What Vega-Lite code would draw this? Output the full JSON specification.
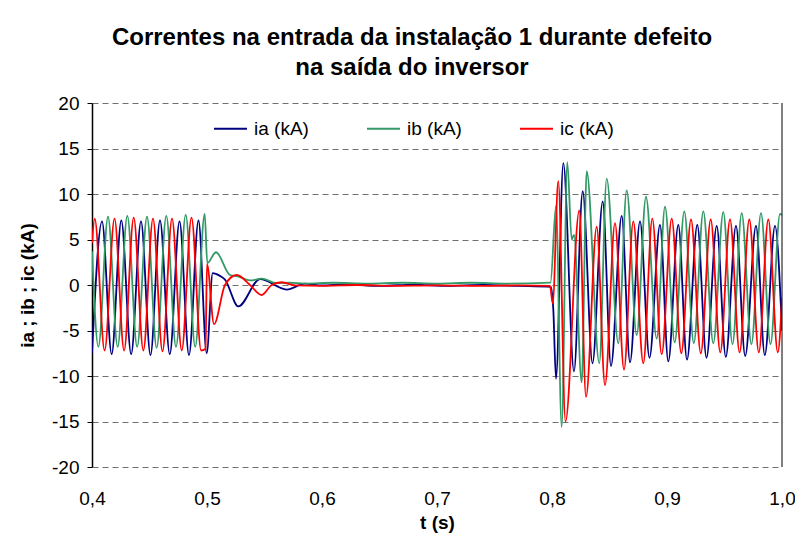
{
  "$schema": "https://vega.github.io/schema/vega-lite/v6.json",
  "width": 690,
  "height": 364,
  "autosize": {"type": "none"},
  "padding": {"left": 92, "top": 103, "right": 13, "bottom": 71},
  "background": "white",
  "title": {
    "text": ["Correntes na entrada da instalação 1 durante defeito", "na saída do inversor"],
    "font": "Liberation Sans",
    "fontSize": 24,
    "fontWeight": "bold",
    "color": "black",
    "anchor": "middle",
    "offset": 14,
    "dx": -25,
    "lineHeight": 30
  },
  "config": {"view": {"stroke": null}, "font": "Liberation Sans"},
  "layer": [
    {
      "data": {
        "values": [
          {"s":"ia","t":0.4,"v":-7.5},{"s":"ia","t":0.4087,"v":7.0},{"s":"ia","t":0.41709,"v":-7.6},{"s":"ia","t":0.42548,"v":7.1},{"s":"ia","t":0.43404,"v":-7.6},{"s":"ia","t":0.44261,"v":7.0},{"s":"ia","t":0.45087,"v":-7.7},{"s":"ia","t":0.45913,"v":7.1},{"s":"ia","t":0.46761,"v":-7.6},{"s":"ia","t":0.47609,"v":7.0},{"s":"ia","t":0.48435,"v":-7.7},{"s":"ia","t":0.49261,"v":7.1},{"s":"ia","t":0.49974,"v":-7.5},{"s":"ia","t":0.50496,"v":1.3},{"s":"ia","t":0.5113,"v":1.0},{"s":"ia","t":0.51565,"v":0.6},{"s":"ia","t":0.52722,"v":-2.35},{"s":"ia","t":0.54609,"v":0.65},{"s":"ia","t":0.5693,"v":-0.5},{"s":"ia","t":0.58522,"v":0.15},{"s":"ia","t":0.6,"v":-0.05},{"s":"ia","t":0.62,"v":0.1},{"s":"ia","t":0.65,"v":-0.1},{"s":"ia","t":0.68,"v":0.05},{"s":"ia","t":0.71,"v":-0.1},{"s":"ia","t":0.74,"v":0.0},{"s":"ia","t":0.77,"v":-0.1},{"s":"ia","t":0.79913,"v":-0.2},{"s":"ia","t":0.80113,"v":-2.7},{"s":"ia","t":0.80348,"v":-10.3},{"s":"ia","t":0.80983,"v":13.4},{"s":"ia","t":0.81913,"v":-9.5},{"s":"ia","t":0.8267,"v":10.3},{"s":"ia","t":0.83522,"v":-8.6},{"s":"ia","t":0.84409,"v":9.2},{"s":"ia","t":0.8513,"v":-8.9},{"s":"ia","t":0.86061,"v":7.6},{"s":"ia","t":0.86783,"v":-8.5},{"s":"ia","t":0.87652,"v":7.0},{"s":"ia","t":0.88478,"v":-8.0},{"s":"ia","t":0.89391,"v":6.6},{"s":"ia","t":0.90113,"v":-8.4},{"s":"ia","t":0.90983,"v":6.6},{"s":"ia","t":0.91739,"v":-8.2},{"s":"ia","t":0.92635,"v":6.6},{"s":"ia","t":0.93435,"v":-8.0},{"s":"ia","t":0.94322,"v":6.5},{"s":"ia","t":0.95113,"v":-7.9},{"s":"ia","t":0.96,"v":6.5},{"s":"ia","t":0.968,"v":-7.8},{"s":"ia","t":0.97739,"v":6.5},{"s":"ia","t":0.98504,"v":-7.7},{"s":"ia","t":0.99391,"v":6.5},{"s":"ia","t":1.0,"v":-5.0},
          {"s":"ib","t":0.4,"v":3.7},{"s":"ib","t":0.40557,"v":-6.8},{"s":"ib","t":0.41391,"v":7.5},{"s":"ib","t":0.4223,"v":-6.8},{"s":"ib","t":0.4307,"v":7.6},{"s":"ib","t":0.43926,"v":-6.8},{"s":"ib","t":0.44783,"v":7.5},{"s":"ib","t":0.45622,"v":-6.9},{"s":"ib","t":0.46461,"v":7.6},{"s":"ib","t":0.47304,"v":-6.8},{"s":"ib","t":0.48148,"v":7.7},{"s":"ib","t":0.48974,"v":-6.8},{"s":"ib","t":0.498,"v":7.8},{"s":"ib","t":0.50026,"v":2.4},{"s":"ib","t":0.50783,"v":3.6},{"s":"ib","t":0.52,"v":1.1},{"s":"ib","t":0.52696,"v":0.95},{"s":"ib","t":0.53739,"v":0.5},{"s":"ib","t":0.54757,"v":0.7},{"s":"ib","t":0.56061,"v":0.2},{"s":"ib","t":0.57217,"v":0.25},{"s":"ib","t":0.58522,"v":0.15},{"s":"ib","t":0.61,"v":0.25},{"s":"ib","t":0.64,"v":0.15},{"s":"ib","t":0.67,"v":0.25},{"s":"ib","t":0.7,"v":0.15},{"s":"ib","t":0.73,"v":0.25},{"s":"ib","t":0.76,"v":0.15},{"s":"ib","t":0.7987,"v":0.25},{"s":"ib","t":0.80348,"v":8.7},{"s":"ib","t":0.80843,"v":-15.6},{"s":"ib","t":0.8133,"v":13.5},{"s":"ib","t":0.81713,"v":5.0},{"s":"ib","t":0.81913,"v":5.5},{"s":"ib","t":0.82583,"v":-10.7},{"s":"ib","t":0.83017,"v":12.5},{"s":"ib","t":0.84113,"v":-8.6},{"s":"ib","t":0.84757,"v":11.7},{"s":"ib","t":0.85765,"v":-6.4},{"s":"ib","t":0.86496,"v":10.4},{"s":"ib","t":0.87365,"v":-5.5},{"s":"ib","t":0.88174,"v":9.7},{"s":"ib","t":0.89104,"v":-5.9},{"s":"ib","t":0.89826,"v":8.6},{"s":"ib","t":0.9067,"v":-6.3},{"s":"ib","t":0.91504,"v":8.1},{"s":"ib","t":0.9233,"v":-6.4},{"s":"ib","t":0.93157,"v":8.1},{"s":"ib","t":0.94026,"v":-6.4},{"s":"ib","t":0.94896,"v":8.0},{"s":"ib","t":0.95696,"v":-6.5},{"s":"ib","t":0.96496,"v":7.9},{"s":"ib","t":0.97339,"v":-6.5},{"s":"ib","t":0.98174,"v":7.9},{"s":"ib","t":0.99,"v":-6.5},{"s":"ib","t":0.99826,"v":7.8},{"s":"ib","t":1.0,"v":7.7},
          {"s":"ic","t":0.4,"v":4.6},{"s":"ic","t":0.40235,"v":7.3},{"s":"ic","t":0.41096,"v":-7.2},{"s":"ic","t":0.41957,"v":7.3},{"s":"ic","t":0.42791,"v":-7.2},{"s":"ic","t":0.43626,"v":7.4},{"s":"ic","t":0.44465,"v":-7.2},{"s":"ic","t":0.45304,"v":7.3},{"s":"ic","t":0.4613,"v":-7.3},{"s":"ic","t":0.46957,"v":7.3},{"s":"ic","t":0.47804,"v":-7.2},{"s":"ic","t":0.48652,"v":7.4},{"s":"ic","t":0.49487,"v":-7.2},{"s":"ic","t":0.4987,"v":-7.0},{"s":"ic","t":0.5,"v":2.3},{"s":"ic","t":0.50609,"v":-4.3},{"s":"ic","t":0.51565,"v":0.0},{"s":"ic","t":0.52583,"v":1.1},{"s":"ic","t":0.53739,"v":0.0},{"s":"ic","t":0.54757,"v":-1.1},{"s":"ic","t":0.55626,"v":0.0},{"s":"ic","t":0.56496,"v":0.3},{"s":"ic","t":0.57652,"v":-0.05},{"s":"ic","t":0.6,"v":-0.1},{"s":"ic","t":0.63,"v":0.0},{"s":"ic","t":0.66,"v":-0.1},{"s":"ic","t":0.7,"v":-0.05},{"s":"ic","t":0.74,"v":-0.1},{"s":"ic","t":0.77,"v":-0.05},{"s":"ic","t":0.79826,"v":-0.1},{"s":"ic","t":0.80061,"v":-2.0},{"s":"ic","t":0.80548,"v":11.4},{"s":"ic","t":0.81174,"v":-15.0},{"s":"ic","t":0.82374,"v":8.2},{"s":"ic","t":0.82957,"v":-12.3},{"s":"ic","t":0.83887,"v":6.4},{"s":"ic","t":0.84609,"v":-11.0},{"s":"ic","t":0.85478,"v":6.8},{"s":"ic","t":0.86261,"v":-9.3},{"s":"ic","t":0.8707,"v":7.0},{"s":"ic","t":0.87939,"v":-8.6},{"s":"ic","t":0.88722,"v":7.3},{"s":"ic","t":0.89539,"v":-7.6},{"s":"ic","t":0.90409,"v":7.3},{"s":"ic","t":0.91243,"v":-7.5},{"s":"ic","t":0.92087,"v":7.2},{"s":"ic","t":0.92939,"v":-7.5},{"s":"ic","t":0.938,"v":7.2},{"s":"ic","t":0.94635,"v":-7.4},{"s":"ic","t":0.95478,"v":7.2},{"s":"ic","t":0.96313,"v":-7.4},{"s":"ic","t":0.97157,"v":7.2},{"s":"ic","t":0.97983,"v":-7.4},{"s":"ic","t":0.98809,"v":7.2},{"s":"ic","t":0.99635,"v":-7.4},{"s":"ic","t":1.0,"v":-1.4}
        ]
      },
      "mark": {"type": "line", "interpolate": "monotone", "strokeWidth": 1.8, "clip": true},
      "encoding": {
        "x": {
          "field": "t", "type": "quantitative",
          "scale": {"domain": [0.4, 1.0], "nice": false, "zero": false},
          "axis": {
            "title": "t (s)",
            "values": [0.4, 0.5, 0.6, 0.7, 0.8, 0.9, 1.0],
            "labelExpr": "replace(format(datum.value, '.1f'), '.', ',')",
            "grid": false, "domain": false, "ticks": false, "tickSize": 0,
            "labelPadding": 22, "labelFont": "Liberation Sans", "labelFontSize": 19, "labelColor": "black",
            "labelFlush": false, "labelOverlap": false,
            "titleFont": "Liberation Sans", "titleFontSize": 19, "titleFontWeight": "bold", "titleColor": "black", "titlePadding": 5
          }
        },
        "y": {
          "field": "v", "type": "quantitative",
          "scale": {"domain": [-20, 20], "nice": false},
          "axis": {
            "title": "ia ; ib ; ic (kA)",
            "values": [-20, -15, -10, -5, 0, 5, 10, 15, 20],
            "labelExpr": "'' + datum.value",
            "grid": true, "gridDash": [6, 4], "gridColor": "#707070", "gridWidth": 1,
            "domain": true, "domainColor": "black", "domainWidth": 1.5,
            "ticks": true, "tickColor": "black", "tickSize": 5,
            "labelFont": "Liberation Sans", "labelFontSize": 19, "labelColor": "black", "labelPadding": 8,
            "titleFont": "Liberation Sans", "titleFontSize": 19, "titleFontWeight": "bold", "titleColor": "black", "titlePadding": 14
          }
        },
        "color": {
          "field": "s", "type": "nominal",
          "scale": {"domain": ["ia", "ib", "ic"], "range": ["#000080", "#339966", "#FF0000"]},
          "legend": {
            "orient": "none", "legendX": 121, "legendY": 8, "direction": "horizontal", "title": null,
            "symbolType": "stroke", "symbolSize": 1089, "symbolStrokeWidth": 1.8,
            "labelFont": "Liberation Sans", "labelFontSize": 19, "labelColor": "black",
            "labelExpr": "datum.label + ' (kA)'", "labelOffset": 6, "columnPadding": 54, "padding": 0
          }
        }
      }
    },
    {
      "data": {"values": [{"t": 1.0}]},
      "mark": {"type": "rule", "color": "black", "strokeWidth": 1},
      "encoding": {"x": {"field": "t", "type": "quantitative"}}
    }
  ]
}
